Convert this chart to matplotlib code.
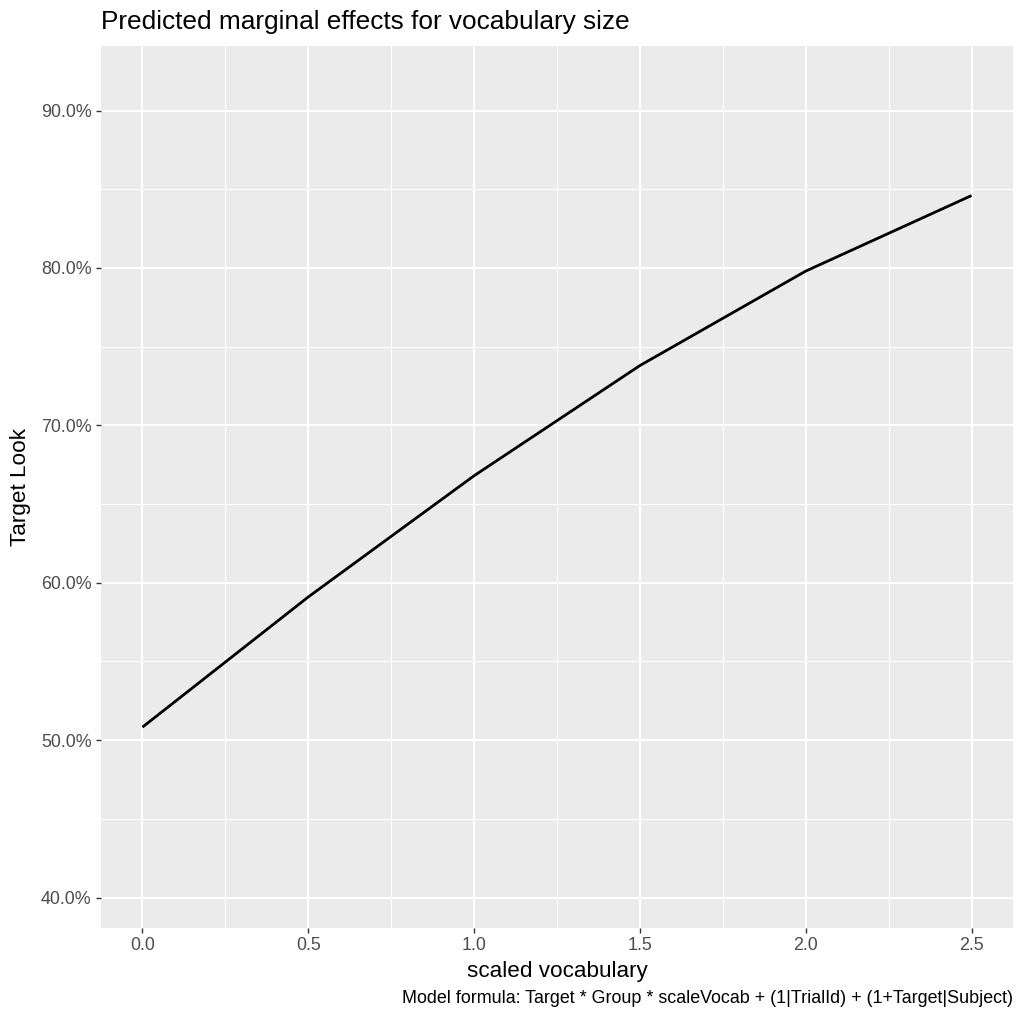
import matplotlib
matplotlib.use("Agg")
import matplotlib.pyplot as plt
from matplotlib.ticker import FixedLocator, FuncFormatter

plt.rcParams['font.family'] = ['Liberation Sans', 'DejaVu Sans']

vocab = [0.0, 0.5, 1.0, 1.5, 2.0, 2.5]
target_look = [50.83, 59.1, 66.8, 73.8, 79.8, 84.6]
x_ticks = [0.0, 0.5, 1.0, 1.5, 2.0, 2.5]
y_ticks = [40, 50, 60, 70, 80, 90]

W, H = 1016, 1018
fig = plt.figure(figsize=(W / 100, H / 100), dpi=100)
L, R, T, B = 101, 1013, 46, 928
ax = fig.add_axes([L / W, 1 - B / H, (R - L) / W, (B - T) / H])
ax.set_facecolor('#EBEBEB')
for s in ax.spines.values():
    s.set_visible(False)

ax.set_xlim(-0.125, 2.625)
ax.set_ylim(38.07, 94.1)
ax.xaxis.set_major_locator(FixedLocator(x_ticks))
ax.yaxis.set_major_locator(FixedLocator(y_ticks))
ax.xaxis.set_minor_locator(FixedLocator([0.25, 0.75, 1.25, 1.75, 2.25]))
ax.yaxis.set_minor_locator(FixedLocator([45, 55, 65, 75, 85]))
ax.xaxis.set_major_formatter(FuncFormatter(lambda v, p: f"{v:.1f}"))
ax.yaxis.set_major_formatter(FuncFormatter(lambda v, p: f"{v:.1f}%"))
ax.grid(which='major', color='white', linewidth=1.5)
ax.grid(which='minor', color='white', linewidth=0.75)
ax.set_axisbelow(True)
ax.tick_params(which='major', length=3.8, width=1.0, color='#333333',
               labelcolor='#4D4D4D', labelsize=12.9, pad=3)
ax.tick_params(which='minor', length=0)

ax.plot(vocab, target_look, color='black', linewidth=2.0, solid_capstyle='butt')

fig.text(L / W, 1 - 29.3 / H, "Predicted marginal effects for vocabulary size",
         ha='left', va='baseline', fontsize=18.9, color='black')
fig.text((L + R) / 2 / W, 1 - 976.7 / H, "scaled vocabulary",
         ha='center', va='baseline', fontsize=16.2, color='black')
fig.text(21 / W, 1 - (T + B) / 2 / H, "Target Look", rotation=90,
         ha='center', va='center', fontsize=16.2, color='black')
fig.text(R / W, 1 - 1002.7 / H,
         "Model formula: Target * Group * scaleVocab + (1|TrialId) + (1+Target|Subject)",
         ha='right', va='baseline', fontsize=12.9, color='black')

fig.savefig("out.png", dpi=100, facecolor='white')
